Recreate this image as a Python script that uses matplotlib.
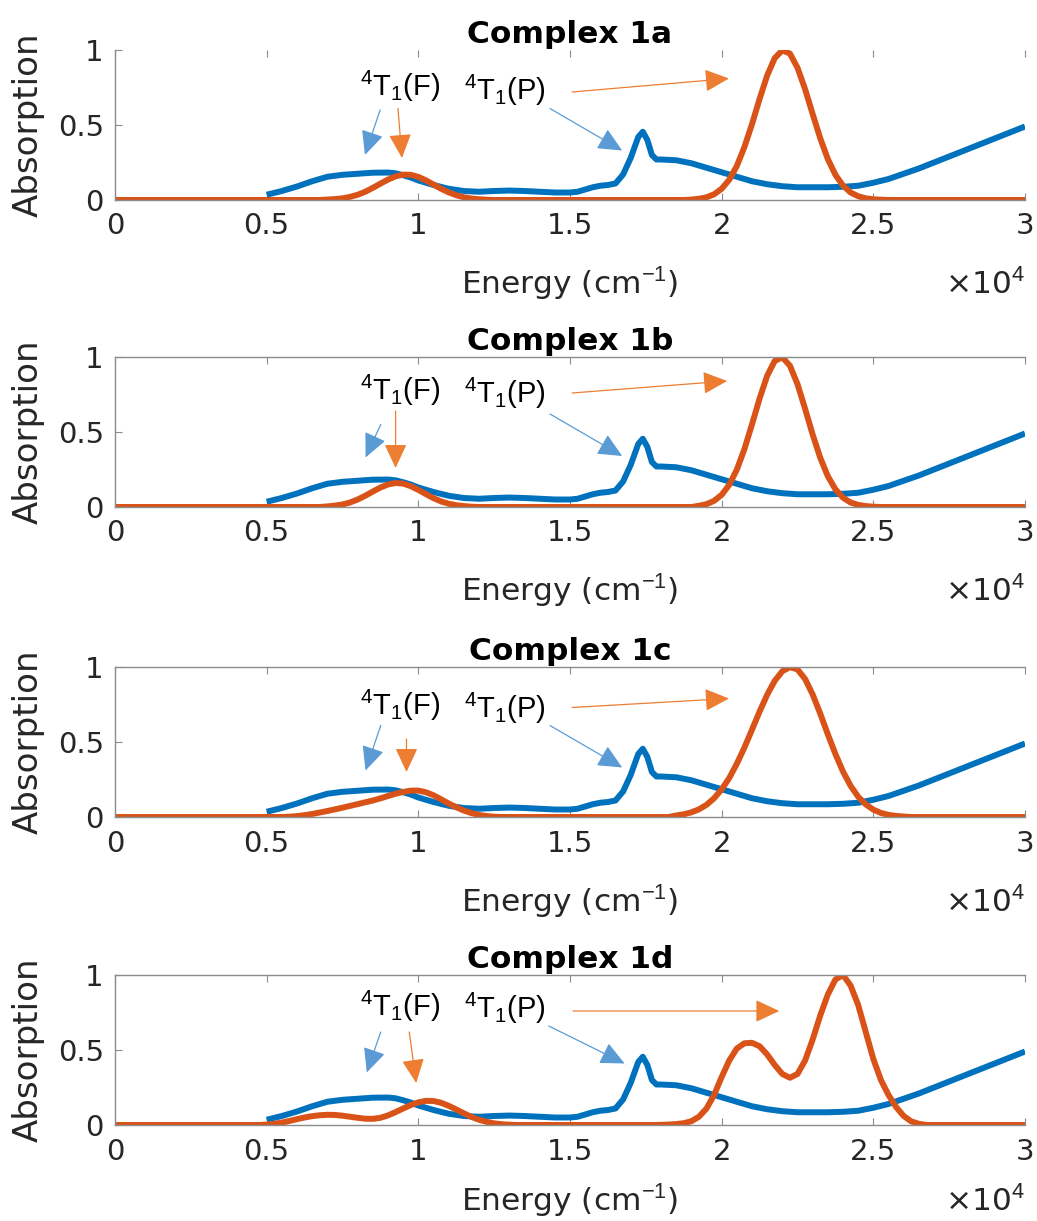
import matplotlib
matplotlib.use('Agg')
import matplotlib.pyplot as plt
from matplotlib import font_manager

# ---------------- data ----------------
titles = ['Complex 1a', 'Complex 1b', 'Complex 1c', 'Complex 1d']
x_ticks = [0, 5000, 10000, 15000, 20000, 25000, 30000]
x_tick_labels = ['0', '0.5', '1', '1.5', '2', '2.5', '3']
y_ticks = [0, 0.5, 1]
y_tick_labels = ['0', '0.5', '1']

energy_blue = [5000, 5500, 6000, 6500, 7000, 7500, 8000, 8500, 9000, 9250, 9500, 9750, 10000,
               10500, 11000, 11500, 12000, 12500, 13000, 13500, 14000, 14500, 15000,
               15250, 15500, 15750, 16000, 16250, 16500, 16750, 17000, 17250,
               17400, 17550, 17700, 17850,
               18000, 18500, 19000, 19500, 20000, 20500, 21000, 21500, 22000, 22500, 23000,
               23500, 24000, 24500, 25000, 25500, 26000, 26500, 27000, 27500, 28000, 28500,
               29000, 29500, 30000]
abs_blue = [0.035, 0.06, 0.09, 0.125, 0.155, 0.168, 0.175, 0.182, 0.183, 0.178, 0.165, 0.15, 0.13,
            0.10, 0.075, 0.06, 0.055, 0.06, 0.063, 0.06, 0.055, 0.05, 0.05,
            0.055, 0.07, 0.085, 0.095, 0.10, 0.11, 0.17, 0.28, 0.42,
            0.455, 0.4, 0.3, 0.27,
            0.27, 0.265, 0.245, 0.215, 0.185, 0.155, 0.125, 0.105, 0.092, 0.085, 0.085,
            0.085, 0.088, 0.095, 0.115, 0.14, 0.175, 0.21, 0.25, 0.29, 0.33, 0.37,
            0.41, 0.45, 0.49]

energy_1a = [0, 6750, 7000, 7250, 7500, 7750, 8000, 8250, 8500, 8750, 9000, 9250, 9500, 9750,
             10000, 10250, 10500, 10750, 11000, 11250, 11500, 11750, 12000, 12250, 12500,
             18750, 19000, 19250, 19500, 19750, 20000, 20250, 20500, 20750, 21000, 21250, 21500,
             21750, 22000, 22250, 22500, 22750, 23000, 23250, 23500, 23750, 24000, 24250, 24500,
             24750, 25000, 25250, 25500, 30000]
abs_1a = [0, 0, 0.003, 0.006, 0.011, 0.021, 0.035, 0.055, 0.081, 0.109, 0.136, 0.158, 0.169, 0.168,
          0.154, 0.131, 0.103, 0.075, 0.051, 0.032, 0.018, 0.010, 0.005, 0.002, 0,
          0, 0.003, 0.008, 0.018, 0.038, 0.075, 0.135, 0.227, 0.353, 0.506, 0.674, 0.83,
          0.946, 0.998, 0.976, 0.882, 0.739, 0.573, 0.411, 0.273, 0.168, 0.096, 0.050, 0.025,
          0.011, 0.005, 0.002, 0, 0]

energy_1b = [0, 6750, 7000, 7250, 7500, 7750, 8000, 8250, 8500, 8750, 9000, 9250, 9500, 9750,
             10000, 10250, 10500, 10750, 11000, 11250, 11500, 11750, 12000,
             19000, 19250, 19500, 19750, 20000, 20250, 20500, 20750, 21000, 21250, 21500, 21750,
             22000, 22250, 22500, 22750, 23000, 23250, 23500, 23750, 24000, 24250, 24500, 24750,
             25000, 25250, 30000]
abs_1b = [0, 0, 0.004, 0.009, 0.017, 0.030, 0.050, 0.075, 0.103, 0.130, 0.150, 0.160, 0.156, 0.139,
          0.114, 0.086, 0.059, 0.037, 0.022, 0.012, 0.006, 0.002, 0,
          0, 0.008, 0.019, 0.041, 0.081, 0.148, 0.249, 0.386, 0.551, 0.723, 0.875, 0.974,
          0.998, 0.942, 0.819, 0.655, 0.483, 0.328, 0.205, 0.118, 0.062, 0.030, 0.014, 0.006,
          0.002, 0, 0]

energy_1c = [0, 5500, 5750, 6000, 6250, 6500, 6750, 7000, 7250, 7500, 7750, 8000, 8250, 8500, 8750,
             9000, 9250, 9500, 9750, 10000, 10250, 10500, 10750, 11000, 11250, 11500, 11750,
             12000, 12250, 12500, 12750,
             18250, 18500, 18750, 19000, 19250, 19500, 19750, 20000, 20250, 20500, 20750, 21000,
             21250, 21500, 21750, 22000, 22250, 22500, 22750, 23000, 23250, 23500, 23750, 24000,
             24250, 24500, 24750, 25000, 25250, 25500, 25750, 26000, 26250, 30000]
abs_1c = [0, 0, 0.002, 0.006, 0.012, 0.02, 0.03, 0.04, 0.051, 0.062, 0.074, 0.086, 0.098, 0.11, 0.124,
          0.14, 0.155, 0.167, 0.176, 0.176, 0.165, 0.145, 0.118, 0.09, 0.065, 0.043, 0.026,
          0.014, 0.006, 0.002, 0,
          0, 0.01, 0.018, 0.031, 0.051, 0.081, 0.125, 0.184, 0.26, 0.355, 0.463, 0.582,
          0.703, 0.815, 0.908, 0.972, 0.999, 0.984, 0.92, 0.817, 0.689, 0.551, 0.42, 0.303,
          0.208, 0.135, 0.084, 0.049, 0.027, 0.014, 0.007, 0.003, 0, 0]

energy_1d = [0, 4750, 5000, 5250, 5500, 5750, 6000, 6250, 6500, 6750, 7000, 7250, 7500, 7750, 8000,
             8250, 8500, 8750, 9000, 9250, 9500, 9750, 10000, 10250, 10500, 10750, 11000, 11250,
             11500, 11750, 12000, 12250, 12500, 12750, 13000, 13250,
             17750, 18000, 18250, 18500, 18750, 19000, 19250, 19500, 19750, 20000, 20250, 20500,
             20750, 21000, 21250, 21500, 21750, 22000, 22250, 22500, 22750, 23000, 23250, 23500,
             23750, 24000, 24250, 24500, 24750, 25000, 25250, 25500, 25750, 26000, 26250, 26500,
             26750, 30000]
abs_1d = [0, 0, 0.003, 0.008, 0.016, 0.027, 0.039, 0.05, 0.059, 0.065, 0.068, 0.067, 0.062, 0.055, 0.048,
          0.042, 0.041, 0.048, 0.064, 0.086, 0.11, 0.133, 0.151, 0.161, 0.16, 0.148, 0.128, 0.104,
          0.078, 0.054, 0.035, 0.021, 0.011, 0.005, 0.002, 0,
          0, 0.001, 0.003, 0.006, 0.012, 0.025, 0.055, 0.11, 0.2, 0.32, 0.43, 0.51,
          0.545, 0.548, 0.525, 0.47, 0.4, 0.34, 0.315, 0.34, 0.43, 0.57, 0.73, 0.87,
          0.97, 1.0, 0.93, 0.8, 0.62, 0.44, 0.3, 0.2, 0.12, 0.06, 0.024, 0.008,
          0, 0]

orange_energy = [energy_1a, energy_1b, energy_1c, energy_1d]
orange_abs = [abs_1a, abs_1b, abs_1c, abs_1d]

# ---------------- annotation layout (data coords) ----------------
label_F = [(9400, 0.69), (9400, 0.71), (9400, 0.68), (9400, 0.73)]
label_P = [(12860, 0.67), (12860, 0.69), (12860, 0.66), (12860, 0.71)]
arrow_blue_F = [((8740, 0.60), (8240, 0.30)), ((8760, 0.55), (8260, 0.33)),
                ((8760, 0.61), (8260, 0.31)), ((8760, 0.62), (8300, 0.35))]
arrow_orange_F = [((9330, 0.61), (9460, 0.28)), ((9250, 0.64), (9250, 0.26)),
                  ((9610, 0.52), (9610, 0.30)), ((9700, 0.62), (9930, 0.28))]
arrow_blue_P = [((14340, 0.61), (16720, 0.33)), ((14340, 0.62), (16720, 0.34)),
                ((14340, 0.61), (16720, 0.33)), ((14300, 0.66), (16800, 0.41))]
arrow_orange_P = [((15070, 0.72), (20240, 0.81)), ((15070, 0.76), (20180, 0.84)),
                  ((15070, 0.73), (20240, 0.79)), ((15100, 0.76), (21900, 0.76))]

BLUE = '#0072BD'
ORANGE = '#D95319'
ARROW_BLUE = '#5B9BD5'
ARROW_ORANGE = '#ED7D31'
AXIS_GRAY = '#8c8c8c'
TEXT_COLOR = '#262626'

names = {f.name for f in font_manager.fontManager.ttflist}
ann_font = 'Liberation Sans Narrow' if 'Liberation Sans Narrow' in names else 'Liberation Sans'

plt.rcParams['font.family'] = ['DejaVu Sans']
plt.rcParams['mathtext.fontset'] = 'custom'
plt.rcParams['mathtext.rm'] = ann_font
plt.rcParams['mathtext.it'] = ann_font
plt.rcParams['mathtext.bf'] = ann_font
plt.rcParams['mathtext.fallback'] = 'stixsans'

fig = plt.figure(figsize=(10.37, 12.21), dpi=100)
W, H = 1037.0, 1221.0
ax_left, ax_right = 115, 1025
tops = [50, 357, 667, 975]
ax_h = 150
xlabel_y = [-0.63, -0.63, -0.63, -0.575]

for i in range(4):
    top = tops[i]
    ax = fig.add_axes([ax_left / W, 1 - (top + ax_h) / H, (ax_right - ax_left) / W, ax_h / H])
    ax.plot(energy_blue, abs_blue, color=BLUE, lw=4.3, solid_capstyle='butt', solid_joinstyle='round')
    ax.plot(orange_energy[i], orange_abs[i], color=ORANGE, lw=4.3, solid_capstyle='butt',
            solid_joinstyle='round')
    ax.set_xlim(0, 30000)
    ax.set_ylim(0, 1)
    ax.set_xticks(x_ticks)
    ax.set_xticklabels(x_tick_labels)
    ax.set_yticks(y_ticks)
    ax.set_yticklabels(y_tick_labels)
    ax.tick_params(axis='both', direction='in', length=5, width=0.8, color=AXIS_GRAY,
                   labelsize=21, labelcolor=TEXT_COLOR)
    ax.tick_params(axis='x', pad=9, top=True)
    ax.tick_params(axis='y', pad=8)
    for s in ['left', 'bottom', 'top']:
        ax.spines[s].set_color(AXIS_GRAY)
        ax.spines[s].set_linewidth(1.0)
    ax.spines['right'].set_visible(False)
    if i == 0:
        ax.spines['top'].set_visible(False)
    ax.set_facecolor('none')
    ax.set_title(titles[i], fontsize=22.5, fontweight='bold', color='black', pad=5)
    ax.text(-0.095, 0.5, 'Absorption', transform=ax.transAxes, rotation=90,
            ha='center', va='center', fontsize=24.5, color=TEXT_COLOR)
    ax.text(0.5, xlabel_y[i], 'Energy (cm$^{-1}$)', transform=ax.transAxes, ha='center',
            va='baseline', fontsize=22.5, color=TEXT_COLOR)
    ax.text(1.0, xlabel_y[i], '\u00d710$^{4}$', transform=ax.transAxes, ha='right',
            va='baseline', fontsize=22.5, color=TEXT_COLOR)

    ax.text(label_F[i][0], label_F[i][1], '$^{4}$T$_{1}$(F)', ha='center', va='baseline',
            fontsize=21, color='black', family=ann_font)
    ax.text(label_P[i][0], label_P[i][1], '$^{4}$T$_{1}$(P)', ha='center', va='baseline',
            fontsize=21, color='black', family=ann_font)
    for (start, tip), col in [(arrow_blue_F[i], ARROW_BLUE), (arrow_orange_F[i], ARROW_ORANGE),
                              (arrow_blue_P[i], ARROW_BLUE), (arrow_orange_P[i], ARROW_ORANGE)]:
        ax.annotate('', xy=tip, xytext=start,
                    arrowprops=dict(arrowstyle='-|>,head_length=0.75,head_width=0.35',
                                    mutation_scale=20, color=col, lw=0.9,
                                    shrinkA=0, shrinkB=0))

fig.savefig('out.png', dpi=100)
